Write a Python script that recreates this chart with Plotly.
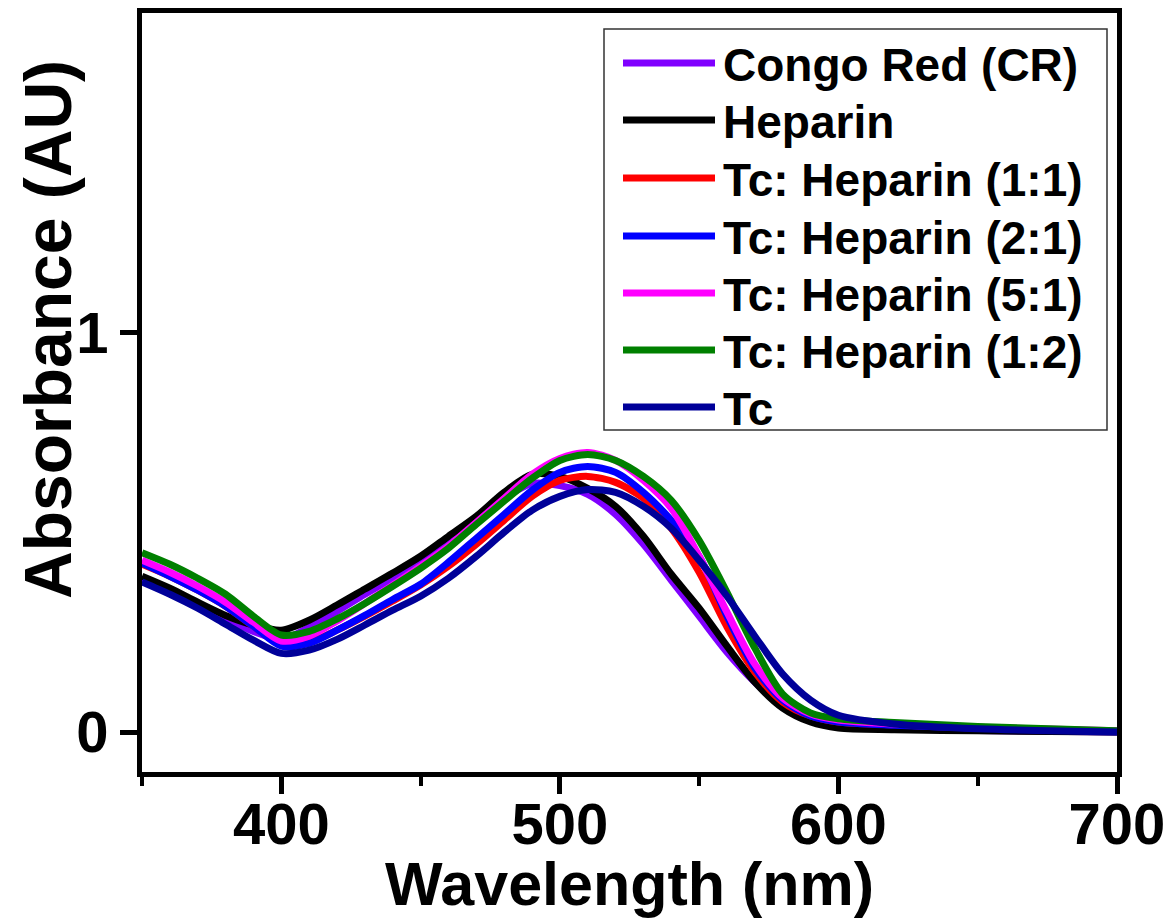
import plotly.graph_objects as go

wavelength = [350, 360, 370, 380, 390, 400, 410, 420, 430, 440, 450, 460, 470, 480, 490,
              500, 510, 520, 530, 540, 550, 560, 570, 580, 590, 600, 620, 650, 700]

congo_red = [0.385, 0.355, 0.322, 0.285, 0.252, 0.232, 0.262, 0.302, 0.345, 0.385, 0.425, 0.475,
             0.530, 0.585, 0.622, 0.617, 0.595, 0.545, 0.470, 0.380, 0.290, 0.200, 0.125, 0.065,
             0.030, 0.015, 0.008, 0.004, 0.000]
heparin = [0.390, 0.360, 0.325, 0.292, 0.268, 0.255, 0.280, 0.318, 0.358, 0.398, 0.440, 0.490,
           0.540, 0.600, 0.645, 0.640, 0.610, 0.565, 0.490, 0.395, 0.310, 0.215, 0.125, 0.060,
           0.025, 0.010, 0.006, 0.003, 0.000]
tc_hep_1_1 = [0.420, 0.390, 0.355, 0.315, 0.265, 0.218, 0.225, 0.255, 0.290, 0.328, 0.368, 0.415,
              0.470, 0.530, 0.590, 0.630, 0.640, 0.625, 0.585, 0.510, 0.400, 0.263, 0.150, 0.075,
              0.040, 0.025, 0.018, 0.010, 0.002]
tc_hep_2_1 = [0.423, 0.390, 0.355, 0.315, 0.265, 0.215, 0.222, 0.255, 0.292, 0.332, 0.370, 0.425,
              0.485, 0.545, 0.605, 0.650, 0.665, 0.650, 0.600, 0.530, 0.440, 0.290, 0.160, 0.080,
              0.040, 0.025, 0.017, 0.010, 0.002]
tc_hep_5_1 = [0.430, 0.400, 0.365, 0.325, 0.275, 0.228, 0.240, 0.278, 0.322, 0.368, 0.415, 0.465,
              0.525, 0.585, 0.645, 0.685, 0.700, 0.680, 0.630, 0.560, 0.440, 0.300, 0.170, 0.085,
              0.045, 0.030, 0.020, 0.012, 0.003]
tc_hep_1_2 = [0.449, 0.420, 0.385, 0.345, 0.290, 0.243, 0.252, 0.283, 0.322, 0.365, 0.410, 0.460,
              0.520, 0.578, 0.635, 0.680, 0.695, 0.680, 0.640, 0.580, 0.480, 0.350, 0.210, 0.095,
              0.048, 0.033, 0.024, 0.014, 0.003]
tc = [0.376, 0.345, 0.310, 0.270, 0.230, 0.197, 0.205, 0.232, 0.268, 0.305, 0.340, 0.385,
      0.440, 0.500, 0.555, 0.590, 0.607, 0.600, 0.565, 0.510, 0.430, 0.340, 0.240, 0.145,
      0.080, 0.042, 0.020, 0.008, 0.000]

names = ["Congo Red (CR)", "Heparin", "Tc: Heparin (1:1)", "Tc: Heparin (2:1)",
         "Tc: Heparin (5:1)", "Tc: Heparin (1:2)", "Tc"]
series = [congo_red, heparin, tc_hep_1_1, tc_hep_2_1, tc_hep_5_1, tc_hep_1_2, tc]
colors = ["#8000FF", "#000000", "#FF0000", "#0000FF", "#FF00FF", "#008000", "#000099"]

x_title = "Wavelength (nm)"
y_title = "Absorbance (AU)"

FONT = "Liberation Sans, Arial, sans-serif"

fig = go.Figure()
for name, ys, col in zip(names, series, colors):
    fig.add_trace(go.Scatter(x=wavelength, y=ys, mode="lines", name=name,
                             line=dict(color=col, width=7, shape="spline", smoothing=0.8),
                             showlegend=False))

# plot-area edges in screen pixels (page has an 8 px body margin)
PX0, PX1, PY0, PY1 = 142, 1117, 13, 772
def px2p(px):
    return (px - PX0) / (PX1 - PX0)
def py2p(py):
    return (PY1 - py) / (PY1 - PY0)

# custom legend (long line samples as in the original)
L_LEFT, L_RIGHT, L_TOP, L_BOT = 604, 1107, 29, 430
fig.add_shape(type="rect", xref="paper", yref="paper",
              x0=px2p(L_LEFT), x1=px2p(L_RIGHT), y0=py2p(L_BOT), y1=py2p(L_TOP),
              line=dict(color="#333333", width=1.5), fillcolor="white", layer="above")
row_y = [63, 120, 178, 236, 293, 350, 407]
for name, col, ry in zip(names, colors, row_y):
    fig.add_shape(type="line", xref="paper", yref="paper",
                  x0=px2p(623), x1=px2p(715), y0=py2p(ry), y1=py2p(ry),
                  line=dict(color=col, width=7), layer="above")
    fig.add_annotation(xref="paper", yref="paper", x=px2p(721), y=py2p(ry + 2),
                       xanchor="left", yanchor="middle", text=name, showarrow=False,
                       font=dict(family=FONT, size=46, color="black", weight="bold"))

# axis titles
fig.add_annotation(xref="paper", yref="paper", x=px2p(629), y=py2p(884),
                   xanchor="center", yanchor="middle", text=x_title, showarrow=False,
                   font=dict(family=FONT, size=61, color="black", weight="bold"))
fig.add_annotation(xref="paper", yref="paper", x=px2p(48), y=py2p(330),
                   xanchor="center", yanchor="middle", text=y_title, showarrow=False,
                   textangle=-90,
                   font=dict(family=FONT, size=66, color="black", weight="bold"))

axis_common = dict(showline=True, linecolor="black", linewidth=5, mirror=True,
                   ticks="outside", tickwidth=5, tickcolor="black", showgrid=False,
                   zeroline=False, automargin=False,
                   tickfont=dict(family=FONT, size=58, color="black", weight="bold"))

fig.update_xaxes(range=[350, 700], tick0=0, dtick=100, ticklen=17, ticklabelstandoff=-20,
                 minor=dict(dtick=50, ticklen=9, tickwidth=4, ticks="outside", tickcolor="black"),
                 **axis_common)
fig.update_yaxes(range=[-0.1, 1.8], tickvals=[0, 1], ticklen=17, **axis_common)

fig.update_layout(width=1166, height=910, plot_bgcolor="white", paper_bgcolor="white",
                  margin=dict(l=134, r=57, t=5, b=146), showlegend=False)

fig.write_html("out.html")
